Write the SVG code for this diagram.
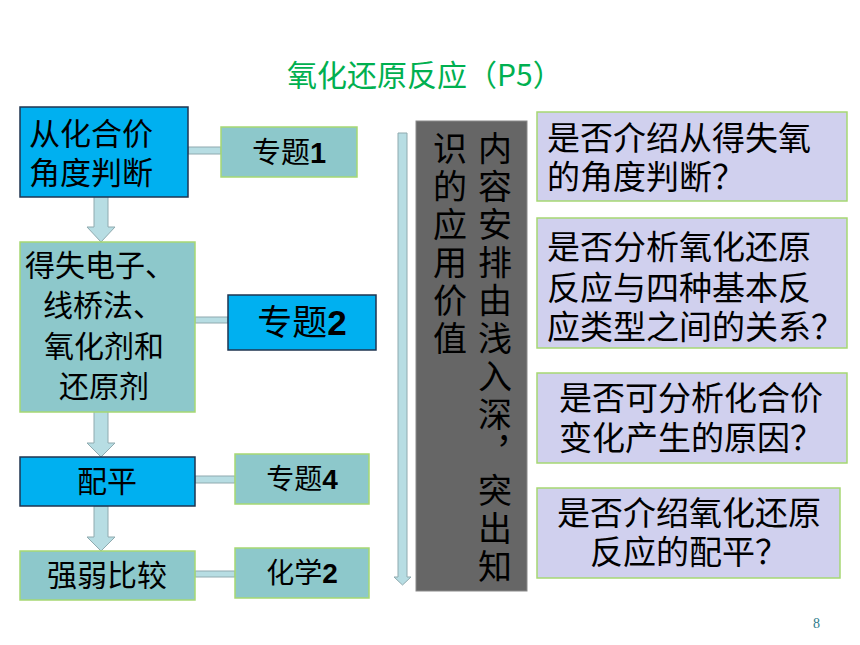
<svg xmlns="http://www.w3.org/2000/svg" width="860" height="645" viewBox="0 0 860 645">
<style>
text{font-family:"Noto Sans CJK SC","Liberation Sans",sans-serif;fill:#000}
.blue{fill:#00B0F0;stroke:#1F3550;stroke-width:1.5}
.teal{fill:#8DC8CB;stroke:#A6D873;stroke-width:1.5}
.lav{fill:#D0D0EE;stroke:#A6D873;stroke-width:1.5}
.conn{fill:#B7DDE3;stroke:#8FAAAF;stroke-width:1}
.t30{font-size:30px}
.t32{font-size:33px}
.num{font-family:"Liberation Sans",Arial,sans-serif;font-weight:bold}
.mid{text-anchor:middle}
.vt{font-size:34px;writing-mode:vertical-rl;letter-spacing:4px}
</style>
<rect width="860" height="645" fill="#fff"/>
<text x="287" y="86" font-size="30" style="fill:#00B050">氧化还原反应（P5）</text>

<g id="connectors">
<rect class="conn" x="188" y="147" width="33" height="7"/>
<rect class="conn" x="195" y="317" width="33" height="6"/>
<rect class="conn" x="195" y="476" width="40" height="7"/>
<rect class="conn" x="195" y="571" width="40" height="6"/>
<path class="conn" d="M94,194 H108 V227 H115 L101,242 L87,227 H94 Z"/>
<path class="conn" d="M94,409 H108 V443 H115 L101,457 L87,443 H94 Z"/>
<path class="conn" d="M94,506 H108 V537 H115 L101,551 L87,537 H94 Z"/>
<path class="conn" d="M398,133 H407 V577 H411 L402.5,585 L394,577 H398 Z"/>
</g>

<g id="n1">
<rect class="blue" x="20" y="107" width="168" height="90"/>
<text x="29" y="145" font-size="31">从化合价</text>
<text x="29" y="184" font-size="31">角度判断</text>
</g>
<g id="n2">
<rect class="teal" x="20" y="242" width="175" height="170"/>
<text class="t30 mid" x="100" y="276">得失电子、</text>
<text class="t30 mid" x="103" y="316">线桥法、</text>
<text class="t30 mid" x="104" y="357">氧化剂和</text>
<text class="t30 mid" x="104" y="397">还原剂</text>
</g>
<g id="n3">
<rect class="blue" x="20" y="457" width="175" height="49"/>
<text class="t30 mid" x="107" y="492">配平</text>
</g>
<g id="n4">
<rect class="teal" x="20" y="551" width="175" height="49"/>
<text class="t30 mid" x="107" y="586">强弱比较</text>
</g>

<g id="s1">
<rect class="teal" x="221" y="127" width="136" height="50"/>
<text class="mid" x="289" y="163" font-size="29">专题<tspan class="num">1</tspan></text>
</g>
<g id="s2">
<rect class="blue" x="228" y="295" width="148" height="55"/>
<text class="mid" x="302" y="335" font-size="35">专题<tspan class="num">2</tspan></text>
</g>
<g id="s4">
<rect class="teal" x="235" y="454" width="134" height="50"/>
<text class="mid" x="302" y="489" font-size="28">专题<tspan class="num">4</tspan></text>
</g>
<g id="s5">
<rect class="teal" x="235" y="548" width="134" height="50"/>
<text class="mid" x="302" y="583" font-size="28">化学<tspan class="num">2</tspan></text>
</g>

<g id="vbox">
<rect x="416" y="121" width="111" height="470" fill="#666666" stroke="#8A8A8A" stroke-width="1"/>
<text class="vt" x="495" y="131">内容安排由浅入深，突出知</text>
<text class="vt" x="450" y="131">识的应用价值</text>
</g>

<g id="q1">
<rect class="lav" x="537" y="112" width="310" height="89"/>
<text class="t32" x="547" y="150">是否介绍从得失氧</text>
<text class="t32" x="547" y="189">的角度判断？</text>
</g>
<g id="q2">
<rect class="lav" x="537" y="218" width="310" height="130"/>
<text class="t32" x="547" y="259">是否分析氧化还原</text>
<text class="t32" x="547" y="300">反应与四种基本反</text>
<text class="t32" x="547" y="339">应类型之间的关系？</text>
</g>
<g id="q3">
<rect class="lav" x="537" y="373" width="310" height="90"/>
<text class="t32 mid" x="691" y="410">是否可分析化合价</text>
<text class="t32 mid" x="691" y="450">变化产生的原因？</text>
</g>
<g id="q4">
<rect class="lav" x="537" y="488" width="303" height="90"/>
<text class="t32 mid" x="689" y="525">是否介绍氧化还原</text>
<text class="t32 mid" x="689" y="564">反应的配平？</text>
</g>

<text x="813" y="628" font-size="14" style="font-family:'Liberation Serif',serif;fill:#2E7B8C">8</text>
</svg>
